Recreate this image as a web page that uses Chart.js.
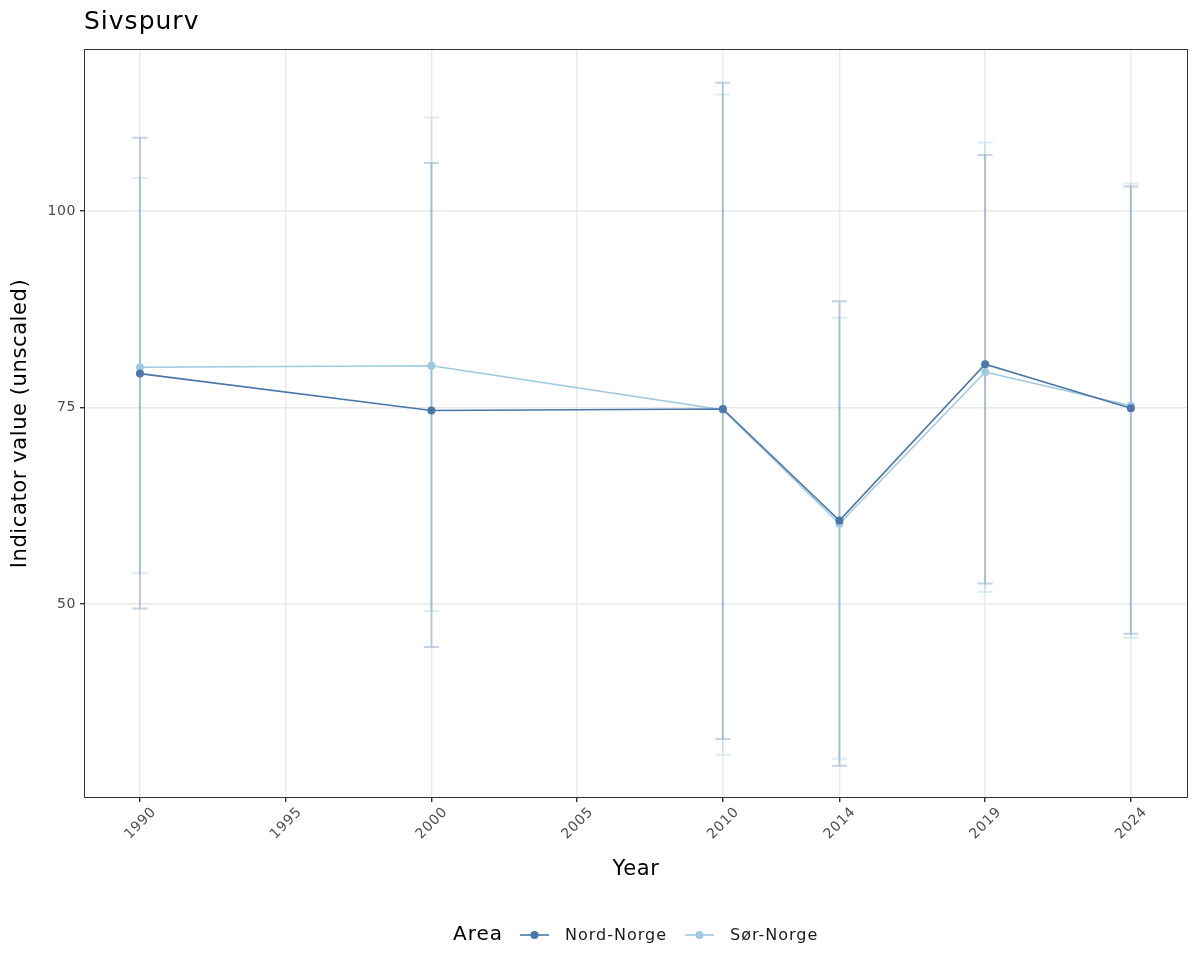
<!DOCTYPE html>
<html>
<head>
<meta charset="utf-8">
<script src="https://cdn.jsdelivr.net/npm/chart.js@4.4.1/dist/chart.umd.min.js"></script>
<style>
  html, body { margin: 0; padding: 0; background: #fff; }
  #wrap { width: 1200px; height: 975px; position: relative; }
</style>
</head>
<body>
<div id="wrap"><canvas id="c" width="1200" height="975"></canvas></div>
<script>
const title = 'Sivspurv';
const xTickValues = [1990, 1995, 2000, 2005, 2010, 2014, 2019, 2024];
const yTickValues = [50, 75, 100];
const years = [1990, 2000, 2010, 2014, 2019, 2024];
const seriesNames = ['Nord-Norge', 'Sør-Norge'];
const nordValues = [79.3, 74.6, 74.8, 60.6, 80.5, 74.9];
const nordLower  = [49.4, 44.5, 32.8, 29.4, 52.6, 46.2];
const nordUpper  = [109.3, 106.1, 116.3, 88.5, 107.1, 103.1];
const sorValues  = [80.1, 80.3, 74.7, 60.2, 79.5, 75.2];
const sorLower   = [53.9, 49.1, 30.8, 30.3, 51.5, 45.7];
const sorUpper   = [104.2, 111.9, 114.8, 86.4, 108.7, 103.5];

const nordColor = '#4a76a8';
const sorColor = '#9ecae1';
const FONT = "'DejaVu Sans', sans-serif";

const errorBars = [
  { lo: sorLower, hi: sorUpper, color: 'rgba(158,202,225,0.35)' },
  { lo: nordLower, hi: nordUpper, color: 'rgba(74,118,168,0.32)' }
];

const errorPlugin = {
  id: 'errorBars',
  beforeUpdate(chart) { chart.ctx.letterSpacing = '0.6px'; },
  beforeDraw(chart) { chart.ctx.letterSpacing = '0.6px'; },
  beforeDatasetsDraw(chart) {
    const ctx = chart.ctx, xs = chart.scales.x, ys = chart.scales.y;
    ctx.save();
    errorBars.forEach(eb => {
      ctx.strokeStyle = eb.color;
      ctx.lineWidth = 2;
      years.forEach((yr, i) => {
        const x = xs.getPixelForValue(yr);
        const y1 = ys.getPixelForValue(eb.lo[i]);
        const y2 = ys.getPixelForValue(eb.hi[i]);
        ctx.beginPath();
        ctx.moveTo(x, y1); ctx.lineTo(x, y2);
        ctx.moveTo(x - 7.5, y1); ctx.lineTo(x + 7.5, y1);
        ctx.moveTo(x - 7.5, y2); ctx.lineTo(x + 7.5, y2);
        ctx.stroke();
      });
    });
    ctx.restore();
  },
  afterDraw(chart) {
    const ctx = chart.ctx, a = chart.chartArea;
    ctx.save();
    // panel border
    ctx.strokeStyle = '#333333';
    ctx.lineWidth = 1;
    ctx.strokeRect(Math.round(a.left) + 0.5, Math.round(a.top) + 0.5, Math.round(a.right - a.left) - 1, Math.round(a.bottom - a.top) - 1);
    // title
    ctx.fillStyle = '#000';
    ctx.letterSpacing = '1px';
    ctx.font = '25px ' + FONT;
    ctx.textBaseline = 'alphabetic';
    ctx.textAlign = 'left';
    ctx.fillText(title, a.left, 29);
    // legend
    const ly = 935;
    ctx.textBaseline = 'middle';
    ctx.letterSpacing = '1px';
    ctx.font = '20px ' + FONT;
    ctx.fillText('Area', 453, ly);
    const items = [
      { name: seriesNames[0], color: nordColor, x: 520 },
      { name: seriesNames[1], color: sorColor, x: 685 }
    ];
    ctx.font = '16px ' + FONT;
    items.forEach(it => {
      ctx.strokeStyle = it.color;
      ctx.lineWidth = 1.6;
      ctx.beginPath(); ctx.moveTo(it.x, ly); ctx.lineTo(it.x + 29, ly); ctx.stroke();
      ctx.fillStyle = it.color;
      ctx.beginPath(); ctx.arc(it.x + 14.5, ly, 4, 0, Math.PI * 2); ctx.fill();
      ctx.fillStyle = '#1a1a1a';
      ctx.fillText(it.name, it.x + 45, ly + 1);
    });
    ctx.restore();
  }
};

const toPts = (vals) => years.map((y, i) => ({ x: y, y: vals[i] }));

new Chart(document.getElementById('c'), {
  type: 'line',
  data: {
    datasets: [
      { label: seriesNames[0], data: toPts(nordValues), borderColor: nordColor, backgroundColor: nordColor,
        borderWidth: 1.6, pointRadius: 4, pointBorderWidth: 0, tension: 0 },
      { label: seriesNames[1], data: toPts(sorValues), borderColor: sorColor, backgroundColor: sorColor,
        borderWidth: 1.6, pointRadius: 4, pointBorderWidth: 0, tension: 0 }
    ]
  },
  options: {
    responsive: false,
    animation: false,
    devicePixelRatio: 1,
    layout: { padding: { left: 4, right: 12, top: 49, bottom: 89 } },
    plugins: { legend: { display: false }, tooltip: { enabled: false }, title: { display: false } },
    scales: {
      x: {
        type: 'linear',
        min: 1988.08, max: 2025.96,
        afterBuildTicks: (s) => { s.ticks = xTickValues.map(v => ({ value: v })); },
        afterFit: (s) => { s.height = 88; },
        grid: { color: '#e9e9e9', lineWidth: 1.4, tickColor: '#333333', tickLength: 4, drawTicks: true },
        border: { display: false },
        ticks: {
          font: { family: FONT, size: 14 }, color: '#4d4d4d',
          maxRotation: 45, minRotation: 45, autoSkip: false, padding: 2, labelOffset: 14,
          callback: (v) => String(v)
        },
        title: { display: true, text: 'Year', font: { family: FONT, size: 21 }, color: '#000' }
      },
      y: {
        min: 25.3, max: 120.6,
        afterBuildTicks: (s) => { s.ticks = yTickValues.map(v => ({ value: v })); },
        afterFit: (s) => { s.width = 80; },
        grid: { color: '#e9e9e9', lineWidth: 1.4, tickColor: '#333333', tickLength: 4, drawTicks: true },
        border: { display: false },
        ticks: { font: { family: FONT, size: 14 }, color: '#4d4d4d', padding: 4, callback: (v) => String(v) },
        title: { display: true, text: 'Indicator value (unscaled)', font: { family: FONT, size: 21 }, color: '#000' }
      }
    }
  },
  plugins: [errorPlugin]
});
</script>
</body>
</html>
